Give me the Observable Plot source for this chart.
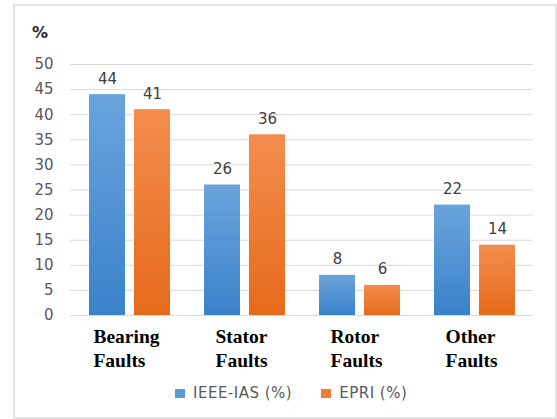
<!DOCTYPE html>
<html>
<head>
<meta charset="utf-8">
<script src="https://cdn.jsdelivr.net/npm/d3@7"></script>
<script src="https://cdn.jsdelivr.net/npm/@observablehq/plot@0.6"></script>
<style>
  html, body { margin: 0; padding: 0; background: #fff; }
  #wrap { position: relative; width: 557px; height: 419px; overflow: hidden; font-family: "DejaVu Sans", sans-serif; }
  #frame { position: absolute; left: 13px; top: 4px; width: 544px; height: 415px; box-sizing: border-box; border: 2px solid #e4e4e4; }
  #ylabel { position: absolute; left: 32px; top: 25px; font-size: 16px; line-height: 16px; font-weight: bold; color: #262626; }
  .layer { position: absolute; left: 0; top: 0; }
  #legend { position: absolute; left: 175px; top: 386px; display: flex; align-items: center; font-size: 15px; line-height: 14px; color: #595959; letter-spacing: 0.5px; }
  .sw { display: inline-block; width: 10px; height: 9px; margin-right: 8px; }
  .item { display: flex; align-items: center; margin-right: 29px; }
</style>
</head>
<body>
<div id="wrap">
  <div id="frame"></div>
  <div id="grid" class="layer"></div>
  <div id="chart" class="layer"></div>
  <div id="ylabel">%</div>
  <div id="legend"></div>
</div>
<script>
const categories = ["Bearing\nFaults", "Stator\nFaults", "Rotor\nFaults", "Other\nFaults"];
const seriesNames = ["IEEE-IAS (%)", "EPRI (%)"];
const ieeeValues = [44, 26, 8, 22];
const epriValues = [41, 36, 6, 14];
const yTicks = [0, 5, 10, 15, 20, 25, 30, 35, 40, 45, 50];
const seriesColors = ["#5b9bd5", "#ed7d31"];

const data = categories.flatMap((c, i) => [
  {category: c, series: seriesNames[0], value: ieeeValues[i]},
  {category: c, series: seriesNames[1], value: epriValues[i]}
]);

const dims = {width: 557, height: 380, marginLeft: 70, marginRight: 24, marginTop: 64, marginBottom: 65};

// background layer: gridlines and y tick labels
const gridPlot = Plot.plot({
  ...dims,
  style: {fontFamily: "DejaVu Sans", background: "transparent", overflow: "visible"},
  y: {domain: [0, 50]},
  marks: [
    Plot.ruleY(yTicks, {stroke: "#d9d9d9", strokeWidth: 1}),
    Plot.axisY(yTicks, {tickSize: 0, tickPadding: 17, fontSize: 15, fill: "#595959", label: null})
  ]
});
document.getElementById("grid").appendChild(gridPlot);

// foreground layer: grouped bars
const plot = Plot.plot({
  ...dims,
  style: {fontFamily: "DejaVu Sans", background: "transparent", overflow: "visible"},
  fx: {domain: categories, paddingInner: 0.29, paddingOuter: 0.145, label: null},
  x: {domain: seriesNames, paddingInner: 0.2, paddingOuter: 0, axis: null},
  y: {domain: [0, 50], axis: null},
  marks: [
    Plot.barY(data.filter(d => d.series === seriesNames[0]), {fx: "category", x: "series", y: "value", fill: "url(#gradBlue)"}),
    Plot.barY(data.filter(d => d.series === seriesNames[1]), {fx: "category", x: "series", y: "value", fill: "url(#gradOrange)"}),
    Plot.text(data, {fx: "category", x: "series", y: "value", text: d => String(d.value), dy: -11, lineAnchor: "bottom", fontSize: 15, fill: "#404040"}),
    Plot.axisFx({anchor: "bottom", tickSize: 0, tickPadding: 10, fontSize: 19.5, fontWeight: "bold", fontFamily: "Liberation Serif", fill: "#000", lineHeight: 1.24, label: null})
  ]
});

const defs = d3.select(plot).insert("defs", ":first-child");
function grad(id, top, bottom) {
  const g = defs.append("linearGradient").attr("id", id).attr("x1", 0).attr("y1", 0).attr("x2", 0).attr("y2", 1);
  g.append("stop").attr("offset", "0%").attr("stop-color", top);
  g.append("stop").attr("offset", "100%").attr("stop-color", bottom);
}
grad("gradBlue", "#6ba4dc", "#3a82c9");
grad("gradOrange", "#f38d4e", "#e66a1b");

document.getElementById("chart").appendChild(plot);

// left-align lines within each centered category label block
d3.select(plot).selectAll('g[aria-label="fx-axis tick label"] text').each(function() {
  const tspans = Array.from(this.querySelectorAll("tspan"));
  if (!tspans.length) return;
  const w = d3.max(tspans, t => t.getComputedTextLength());
  this.setAttribute("text-anchor", "start");
  tspans.forEach(t => t.setAttribute("x", -w / 2 - 3));
});

const legend = d3.select("#legend");
seriesNames.forEach((s, i) => {
  const item = legend.append("div").attr("class", "item");
  item.append("span").attr("class", "sw").style("background", seriesColors[i]);
  item.append("span").text(s);
});
</script>
</body>
</html>
